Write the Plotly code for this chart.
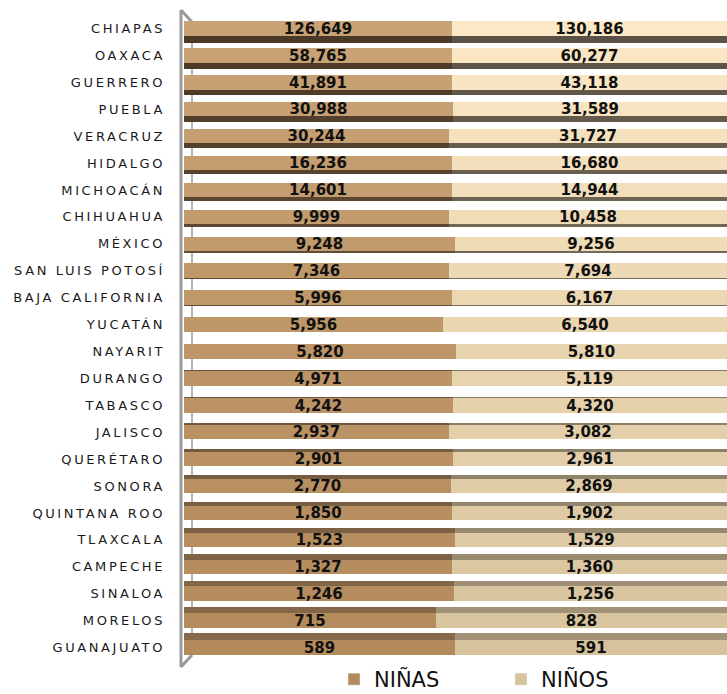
import plotly.graph_objects as go

# datos por entidad (de arriba hacia abajo)
estados = ["CHIAPAS", "OAXACA", "GUERRERO", "PUEBLA", "VERACRUZ", "HIDALGO",
           "MICHOACÁN", "CHIHUAHUA", "MÉXICO", "SAN LUIS POTOSÍ", "BAJA CALIFORNIA",
           "YUCATÁN", "NAYARIT", "DURANGO", "TABASCO", "JALISCO", "QUERÉTARO",
           "SONORA", "QUINTANA ROO", "TLAXCALA", "CAMPECHE", "SINALOA", "MORELOS",
           "GUANAJUATO"]
ninas = [126649, 58765, 41891, 30988, 30244, 16236, 14601, 9999, 9248, 7346, 5996,
         5956, 5820, 4971, 4242, 2937, 2901, 2770, 1850, 1523, 1327, 1246, 715, 589]
ninos = [130186, 60277, 43118, 31589, 31727, 16680, 14944, 10458, 9256, 7694, 6167,
         6540, 5810, 5119, 4320, 3082, 2961, 2869, 1902, 1529, 1360, 1256, 828, 591]

W, H = 727, 694
M_L, M_R, M_T, M_B = 184, 0, 15, 33
PH = H - M_T - M_B
n = len(estados)
row_px = PH / n

pct_f = [100 * a / (a + b) for a, b in zip(ninas, ninos)]
pct_m = [100 * b / (a + b) for a, b in zip(ninas, ninos)]


def mix(c1, c2, t):
    c1 = [int(c1[i:i + 2], 16) for i in (1, 3, 5)]
    c2 = [int(c2[i:i + 2], 16) for i in (1, 3, 5)]
    return "rgb(%d,%d,%d)" % tuple(round(a + (b - a) * t) for a, b in zip(c1, c2))


ts = [i / (n - 1) for i in range(n)]
face_f = [mix("#C9A276", "#B38A5B", t) for t in ts]
face_m = [mix("#FCE8C4", "#D6C39D", t) for t in ts]
side_f = [mix("#4A3927", "#86694A", t) for t in ts]
side_m = [mix("#5A5246", "#A39479", t) for t in ts]

# efecto 3D: cara lateral abajo (filas de arriba) o arriba (filas de abajo)
w = 14.5 / row_px
shift = [7 * (1 - 2 * i / (n - 1)) / row_px for i in range(n)]
d_off = [min(-w / 2, -w / 2 + s) for s in shift]
d_w = [w + abs(s) for s in shift]

fig = go.Figure()

# caras laterales
fig.add_trace(go.Bar(y=estados, x=pct_f, base=0, orientation="h", offset=d_off, width=d_w,
                     marker=dict(color=side_f, line_width=0), showlegend=False, hoverinfo="skip"))
fig.add_trace(go.Bar(y=estados, x=pct_m, base=pct_f, orientation="h", offset=d_off, width=d_w,
                     marker=dict(color=side_m, line_width=0), showlegend=False, hoverinfo="skip"))

lbl_font = dict(family="DejaVu Sans", size=15, color="#111111", weight="bold")
# caras frontales
fig.add_trace(go.Bar(y=estados, x=pct_f, base=0, orientation="h", offset=-w / 2, width=w,
                     marker=dict(color=face_f, line_width=0), showlegend=False,
                     text=[f"{v:,}" for v in ninas], textposition="inside",
                     insidetextanchor="middle", textangle=0, constraintext="none",
                     textfont=lbl_font, customdata=ninas,
                     hovertemplate="%{y}<br>Niñas: %{customdata:,}<extra></extra>"))
fig.add_trace(go.Bar(y=estados, x=pct_m, base=pct_f, orientation="h", offset=-w / 2, width=w,
                     marker=dict(color=face_m, line_width=0), showlegend=False,
                     text=[f"{v:,}" for v in ninos], textposition="inside",
                     insidetextanchor="middle", textangle=0, constraintext="none",
                     textfont=lbl_font, customdata=ninos,
                     hovertemplate="%{y}<br>Niños: %{customdata:,}<extra></extra>"))

# entradas de la leyenda
fig.add_trace(go.Bar(y=[None], x=[None], orientation="h", name="NIÑAS", marker_color="#B38A5B"))
fig.add_trace(go.Bar(y=[None], x=[None], orientation="h", name="NIÑOS", marker_color="#D6C39D"))


# coordenadas de la página -> papel
def px_x(x):
    return (x - M_L) / (W - M_L - M_R)


def px_y(y):
    return 1 - (y - M_T) / PH


wall = "#9a9a9a"
shapes = [
    dict(type="line", xref="paper", yref="paper", x0=px_x(181), y0=px_y(10), x1=px_x(181), y1=px_y(667),
         line=dict(color=wall, width=3), layer="below"),
    dict(type="line", xref="paper", yref="paper", x0=px_x(181), y0=px_y(10), x1=px_x(192), y1=px_y(22),
         line=dict(color=wall, width=3), layer="below"),
    dict(type="line", xref="paper", yref="paper", x0=px_x(181), y0=px_y(667), x1=px_x(192), y1=px_y(655),
         line=dict(color=wall, width=3), layer="below"),
    dict(type="line", xref="paper", yref="paper", x0=px_x(192), y0=px_y(22), x1=px_x(192), y1=px_y(655),
         line=dict(color="#b5b5b5", width=2), layer="below"),
]

fig.update_layout(
    width=W, height=H,
    margin=dict(l=M_L, r=M_R, t=M_T, b=M_B, autoexpand=False),
    barmode="overlay",
    bargap=0,
    plot_bgcolor="white", paper_bgcolor="white",
    shapes=shapes,
    xaxis=dict(range=[0, 100], visible=False, fixedrange=True),
    yaxis=dict(autorange="reversed", showgrid=False, zeroline=False, showline=False,
               ticks="", ticklabelstandoff=18,
               tickfont=dict(family="DejaVu Sans", size=13, color="#1a1a1a")),
    legend=dict(orientation="h", x=px_x(334), xanchor="left", y=px_y(700),
                yanchor="bottom", font=dict(family="DejaVu Sans", size=21, color="#111111"),
                entrywidth=122, traceorder="normal", bgcolor="rgba(0,0,0,0)",
                borderwidth=0),
    font=dict(family="DejaVu Sans"),
)

# sin margen en el body para que la figura ocupe toda la ventana; etiquetas espaciadas
css = ("var s=document.createElement('style');"
       "s.textContent='body{margin:0} .ytick text{letter-spacing:2.6px}';"
       "document.head.appendChild(s);")
fig.write_html("out.html", post_script=css, config={"displayModeBar": False})
